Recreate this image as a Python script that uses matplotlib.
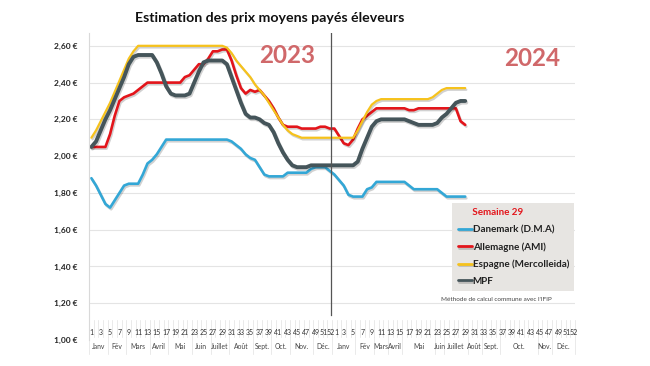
import matplotlib
matplotlib.use('agg')
import matplotlib.pyplot as plt
import matplotlib.patheffects as pe
import numpy as np

plt.rcParams['font.family'] = ['Lato', 'DejaVu Sans']

# weekly prices, 2023 (weeks 1-52) then 2024 (weeks 1-29)
danemark_2023 = [1.88, 1.84, 1.79, 1.74, 1.72, 1.76, 1.80, 1.84, 1.85, 1.85,
                 1.85, 1.90, 1.96, 1.98, 2.01, 2.05, 2.09, 2.09, 2.09, 2.09,
                 2.09, 2.09, 2.09, 2.09, 2.09, 2.09, 2.09, 2.09, 2.09, 2.09,
                 2.08, 2.06, 2.04, 2.01, 1.99, 1.98, 1.94, 1.90, 1.89, 1.89,
                 1.89, 1.89, 1.91, 1.91, 1.91, 1.91, 1.91, 1.93, 1.94, 1.94,
                 1.94, 1.92]
danemark_2024 = [1.90, 1.87, 1.84, 1.79, 1.78, 1.78, 1.78, 1.82, 1.83, 1.86,
                 1.86, 1.86, 1.86, 1.86, 1.86, 1.86, 1.84, 1.82, 1.82, 1.82,
                 1.82, 1.82, 1.82, 1.80, 1.78, 1.78, 1.78, 1.78, 1.78]

allemagne_2023 = [2.05, 2.05, 2.05, 2.05, 2.12, 2.22, 2.30, 2.32, 2.33, 2.34,
                  2.36, 2.38, 2.40, 2.40, 2.40, 2.40, 2.40, 2.40, 2.40, 2.40,
                  2.43, 2.44, 2.47, 2.50, 2.50, 2.53, 2.57, 2.57, 2.58, 2.58,
                  2.52, 2.44, 2.37, 2.34, 2.36, 2.35, 2.36, 2.33, 2.30, 2.26,
                  2.21, 2.17, 2.16, 2.16, 2.16, 2.15, 2.15, 2.15, 2.15, 2.16,
                  2.16, 2.15]
allemagne_2024 = [2.15, 2.11, 2.07, 2.06, 2.09, 2.15, 2.20, 2.22, 2.24, 2.26,
                  2.26, 2.26, 2.26, 2.26, 2.26, 2.26, 2.25, 2.25, 2.26, 2.26,
                  2.26, 2.26, 2.26, 2.26, 2.26, 2.26, 2.26, 2.19, 2.17]

espagne_2023 = [2.10, 2.14, 2.19, 2.24, 2.29, 2.35, 2.41, 2.47, 2.53, 2.57,
                2.60, 2.60, 2.60, 2.60, 2.60, 2.60, 2.60, 2.60, 2.60, 2.60,
                2.60, 2.60, 2.60, 2.60, 2.60, 2.60, 2.60, 2.60, 2.60, 2.59,
                2.56, 2.52, 2.49, 2.46, 2.43, 2.39, 2.36, 2.33, 2.29, 2.25,
                2.21, 2.17, 2.14, 2.12, 2.11, 2.10, 2.10, 2.10, 2.10, 2.10,
                2.10, 2.10]
espagne_2024 = [2.10, 2.10, 2.10, 2.10, 2.10, 2.14, 2.19, 2.24, 2.28, 2.30,
                2.31, 2.31, 2.31, 2.31, 2.31, 2.31, 2.31, 2.31, 2.31, 2.31,
                2.31, 2.32, 2.34, 2.36, 2.37, 2.37, 2.37, 2.37, 2.37]

mpf_2023 = [2.05, 2.08, 2.14, 2.20, 2.25, 2.31, 2.37, 2.43, 2.50, 2.54,
            2.55, 2.55, 2.55, 2.55, 2.51, 2.45, 2.38, 2.34, 2.33, 2.33,
            2.33, 2.34, 2.40, 2.46, 2.51, 2.52, 2.52, 2.52, 2.52, 2.50,
            2.43, 2.36, 2.29, 2.23, 2.21, 2.21, 2.20, 2.18, 2.17, 2.13,
            2.07, 2.02, 1.98, 1.95, 1.94, 1.94, 1.94, 1.95, 1.95, 1.95,
            1.95, 1.95]
mpf_2024 = [1.95, 1.95, 1.95, 1.95, 1.95, 1.97, 2.04, 2.10, 2.16, 2.19,
            2.20, 2.20, 2.20, 2.20, 2.20, 2.20, 2.19, 2.18, 2.17, 2.17,
            2.17, 2.17, 2.18, 2.21, 2.23, 2.26, 2.29, 2.30, 2.30]

months = ['Janv', 'Fév', 'Mars', 'Avril', 'Mai', 'Juin', 'Juillet', 'Août',
          'Sept.', 'Oct.', 'Nov.', 'Déc.']
weeks_per_month_2023 = [4, 4, 5, 4, 5, 4, 4, 5, 4, 4, 5, 4]
weeks_per_month_2024 = [5, 4, 3, 3, 7, 2, 5, 3, 4, 8, 3, 5]

series = [
    ('Danemark (D.M.A)', danemark_2023 + danemark_2024, '#33a7d6', 1.9),
    ('Allemagne (AMI)', allemagne_2023 + allemagne_2024, '#e3151b', 1.9),
    ('Espagne (Mercolleida)', espagne_2023 + espagne_2024, '#f6c21c', 1.6),
    ('MPF', mpf_2023 + mpf_2024, '#45555a', 2.8),
]

fig = plt.figure(figsize=(6.5, 3.66), dpi=100)
ax = fig.add_axes([0.137, 0.071, 0.7477, 0.839])

handles = []
for name, vals, col, lw in series:
    x = np.arange(len(vals))
    ln, = ax.plot(x, vals, color=col, lw=lw, label=name, solid_capstyle='round',
                  path_effects=[pe.SimpleLineShadow(offset=(0.8, -1.2), alpha=0.18),
                                pe.Normal()])
    handles.append(ln)

ax.set_xlim(-0.5, 103.5)
ax.set_ylim(1.0, 2.67)
yt = np.arange(1.0, 2.61, 0.2)
ax.set_yticks(yt)
ax.set_yticklabels([('%.2f €' % v).replace('.', ',') for v in yt],
                   fontsize=6, fontweight='bold', color='#222222')
ax.tick_params(axis='y', length=0, pad=8)
ax.set_xticks([])
ax.grid(axis='y', color='#e4e4e4', lw=0.8)
ax.yaxis.get_gridlines()[0].set_visible(False)
ax.set_axisbelow(True)
for s in ['top', 'right', 'bottom']:
    ax.spines[s].set_visible(False)
ax.spines['left'].set_color('#d9d9d9')
ax.spines['left'].set_linewidth(0.8)

# separation 2023 / 2024
ax.axvline(51.3, ymin=0.08, ymax=1.0, color='#555555', lw=0.9)

# week numbers and month labels
tr = ax.get_xaxis_transform()
weeks = list(range(1, 53)) * 2
for i, w in enumerate(weeks):
    if w % 2 == 1 or w == 52:
        xi = i
        if w == 51:
            xi = i - 0.3
        elif w == 52:
            xi = i + 0.15
        elif w == 1 and i > 0:
            xi = i + 0.35
        ax.text(xi, 0.024, str(w), transform=tr, ha='center', va='center',
                fontsize=5.0, color='#333333', clip_on=False)
for i in range(len(weeks) + 1):
    ax.plot([i - 0.5, i - 0.5], [0.065, 0.01], transform=tr, color='#e2e2e2',
            lw=0.5, clip_on=False)
start = 0
for counts in [weeks_per_month_2023, weeks_per_month_2024]:
    for m, c in zip(months, counts):
        ax.text(start + (c - 1) / 2, -0.02, m, transform=tr, ha='center',
                va='center', fontsize=4.9, color='#444444', clip_on=False)
        ax.plot([start - 0.5, start - 0.5], [0.01, -0.045], transform=tr,
                color='#e2e2e2', lw=0.5, clip_on=False)
        start += c
ax.plot([start - 0.5, start - 0.5], [0.01, -0.045], transform=tr,
        color='#e2e2e2', lw=0.5, clip_on=False)

fig.text(0.415, 0.951, 'Estimation des prix moyens payés éleveurs',
         ha='center', va='center', fontsize=10.2, fontweight='bold', color='#111111')
fig.text(0.442, 0.847, '2023', ha='center', va='center', fontsize=17.5,
         fontweight='bold', color='#d0686a')
fig.text(0.818, 0.841, '2024', ha='center', va='center', fontsize=17.5,
         fontweight='bold', color='#d0686a')

leg = ax.legend(handles=handles, title='      Semaine 29', loc='upper left',
                bbox_to_anchor=(0.696, 0.446), bbox_transform=fig.transFigure,
                borderaxespad=0, frameon=True, fancybox=False, framealpha=1,
                facecolor='#e7e5e2', edgecolor='none', handlelength=1.4,
                handletextpad=0.1, labelspacing=0.8, alignment='left',
                prop={'size': 7.1, 'weight': 'bold'}, borderpad=0.55)
leg.get_title().set_color('#e3151b')
leg.get_title().set_fontweight('bold')
leg.get_title().set_fontsize(7.1)
for t in leg.get_texts():
    t.set_color('#222222')
for h in leg.legend_handles:
    h.set_linewidth(2.0)

fig.text(0.764, 0.183, "Méthode de calcul commune avec l'IFIP", ha='center',
         va='center', fontsize=4.6, color='#444444')

fig.savefig('out.png', dpi=100)
